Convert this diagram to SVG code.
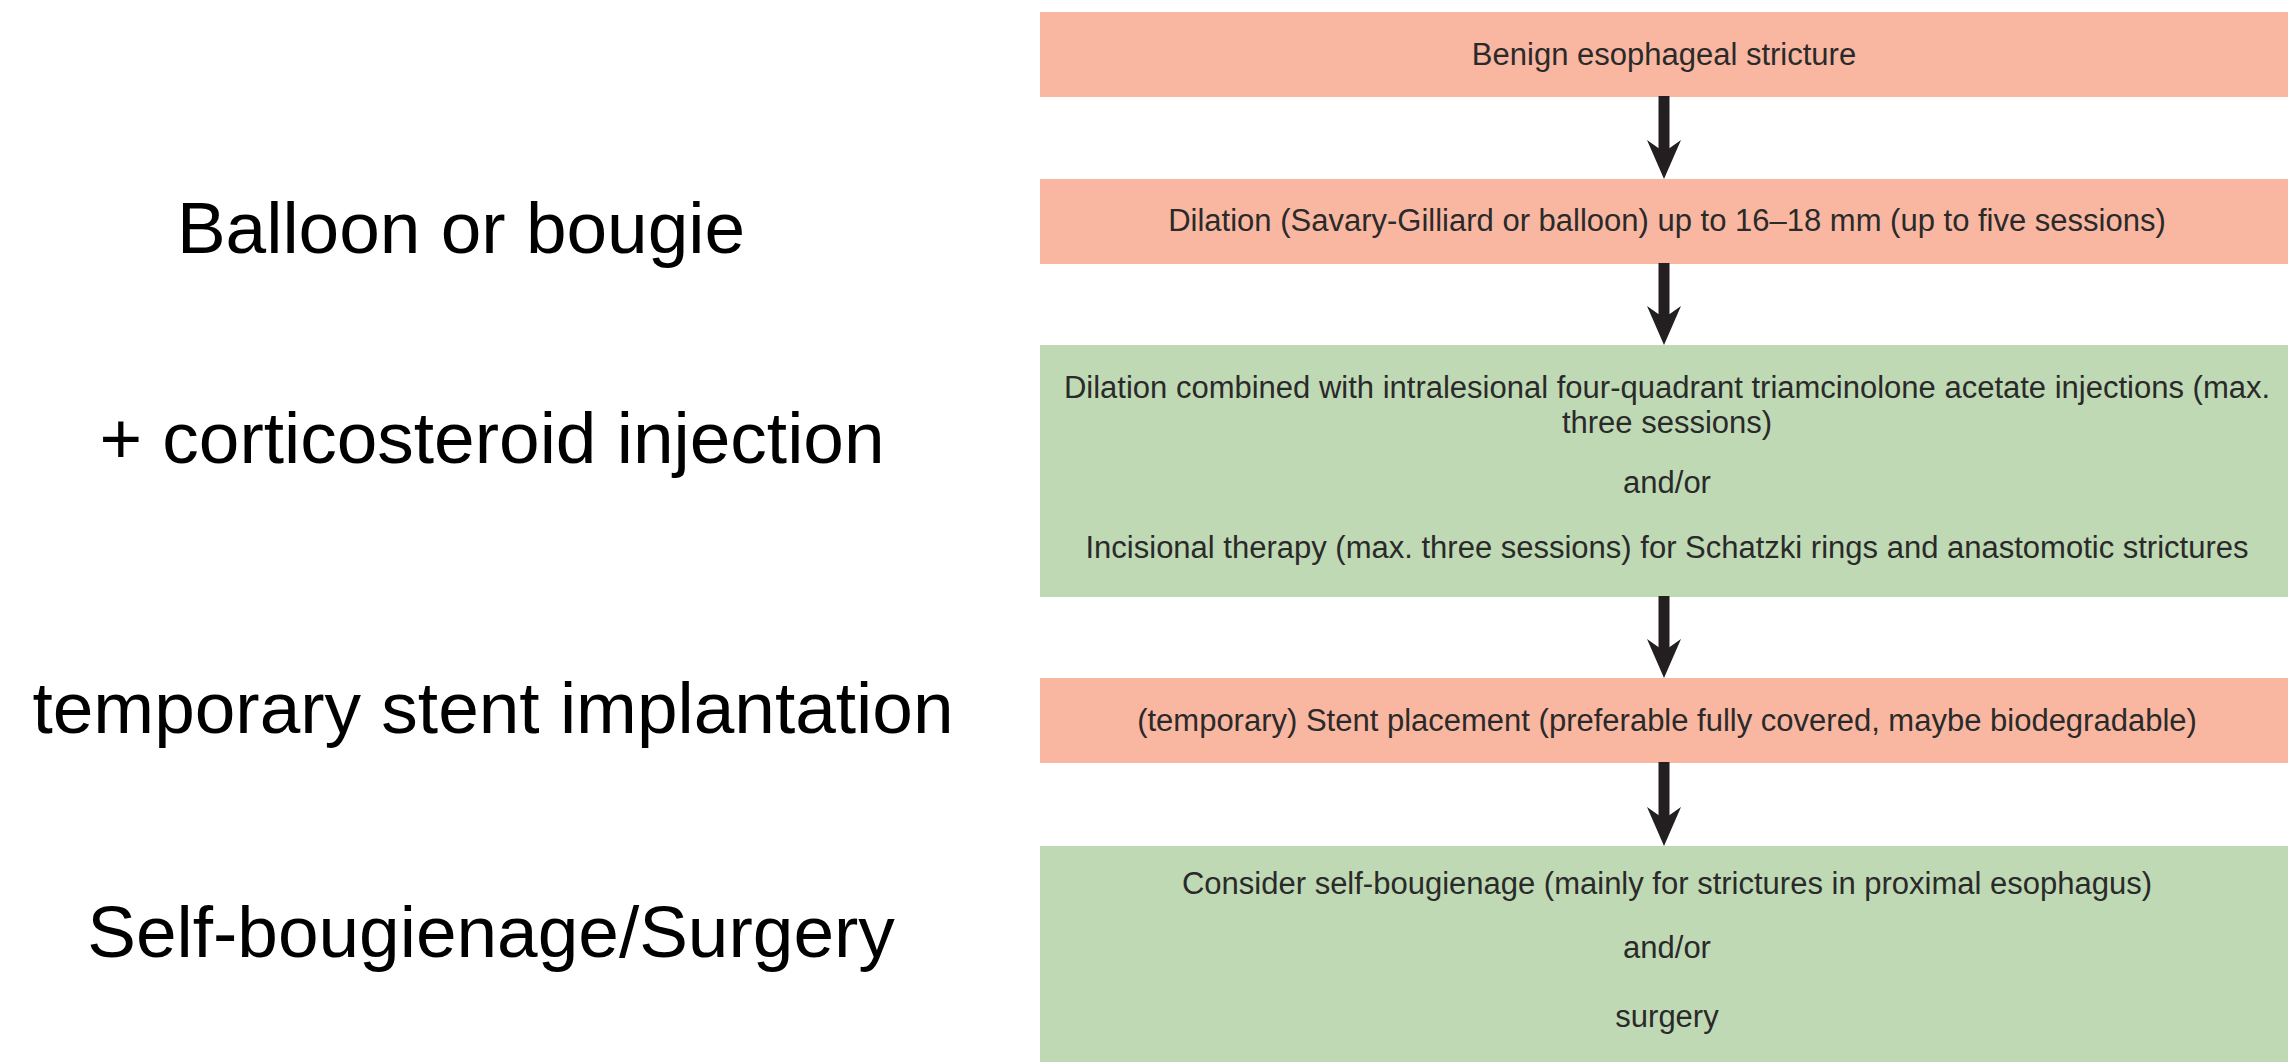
<svg xmlns="http://www.w3.org/2000/svg" width="2288" height="1062" viewBox="0 0 2288 1062">
<style>
.bg{fill:#ffffff}
.red{fill:#f9b7a1}
.green{fill:#c0d9b5}
.bt{font-family:"Liberation Sans",Arial,Helvetica,sans-serif;font-size:31px;fill:#2a2a2a;text-anchor:middle}
.lt{font-family:"Liberation Sans",Arial,Helvetica,sans-serif;font-size:73px;fill:#000000;text-anchor:middle}
.conn{stroke:#231f20;stroke-width:11;fill:none;marker-end:url(#ah)}
</style>
<defs>
<marker id="ah" markerUnits="userSpaceOnUse" markerWidth="40" markerHeight="36" refX="0" refY="0" orient="auto" overflow="visible">
<path d="M27,0 L-12,-17 L0,0 L-12,17 Z" fill="#231f20"/>
</marker>
</defs>
<rect class="bg" x="0" y="0" width="2288" height="1062"/>
<g id="labels">
<text class="lt" x="461" y="253">Balloon or bougie</text>
<text class="lt" x="492" y="463">+ corticosteroid injection</text>
<text class="lt" x="493" y="733">temporary stent implantation</text>
<text class="lt" x="491" y="957">Self-bougienage/Surgery</text>
</g>
<g id="node1">
<rect class="red" x="1040" y="12" width="1248" height="85"/>
<text class="bt" x="1664" y="65">Benign esophageal stricture</text>
</g>
<g id="node2">
<rect class="red" x="1040" y="179" width="1248" height="85"/>
<text class="bt" x="1667" y="231">Dilation (Savary-Gilliard or balloon) up to 16–18 mm (up to five sessions)</text>
</g>
<g id="node3">
<rect class="green" x="1040" y="345" width="1248" height="252"/>
<text class="bt" x="1667" y="398">Dilation combined with intralesional four-quadrant triamcinolone acetate injections (max.</text>
<text class="bt" x="1667" y="433">three sessions)</text>
<text class="bt" x="1667" y="493">and/or</text>
<text class="bt" x="1667" y="558">Incisional therapy (max. three sessions) for Schatzki rings and anastomotic strictures</text>
</g>
<g id="node4">
<rect class="red" x="1040" y="678" width="1248" height="85"/>
<text class="bt" x="1667" y="731">(temporary) Stent placement (preferable fully covered, maybe biodegradable)</text>
</g>
<g id="node5">
<rect class="green" x="1040" y="846" width="1248" height="216"/>
<text class="bt" x="1667" y="894">Consider self-bougienage (mainly for strictures in proximal esophagus)</text>
<text class="bt" x="1667" y="958">and/or</text>
<text class="bt" x="1667" y="1027">surgery</text>
</g>
<g id="connectors">
<line class="conn" x1="1664" y1="96" x2="1664" y2="152"/>
<line class="conn" x1="1664" y1="263" x2="1664" y2="318"/>
<line class="conn" x1="1664" y1="596" x2="1664" y2="651"/>
<line class="conn" x1="1664" y1="762" x2="1664" y2="819"/>
</g>
</svg>
